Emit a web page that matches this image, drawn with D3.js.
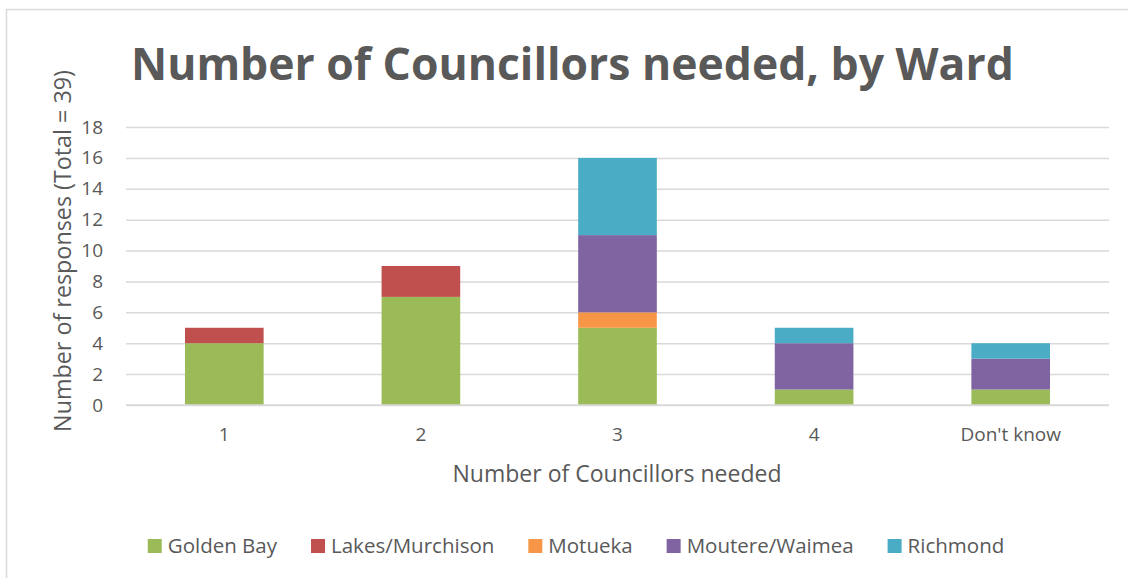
<!DOCTYPE html>
<html>
<head>
<meta charset="utf-8">
<script src="https://cdn.jsdelivr.net/npm/d3@7"></script>
<style>
  html, body { margin: 0; padding: 0; background: #fff; }
  svg { display: block; font-family: "Open Sans", "Liberation Sans", sans-serif; }
</style>
</head>
<body>
<svg id="chart" width="1128" height="578"></svg>
<script>
// Responses by number of councillors needed, split by ward
const categories = ["1", "2", "3", "4", "Don't know"];
const wards = ["Golden Bay", "Lakes/Murchison", "Motueka", "Moutere/Waimea", "Richmond"];
const goldenBay      = [4, 7, 5, 1, 1];
const lakesMurchison = [1, 2, 0, 0, 0];
const motueka        = [0, 0, 1, 0, 0];
const moutereWaimea  = [0, 0, 5, 3, 2];
const richmond       = [0, 0, 5, 1, 1];
const yTicks = [0, 2, 4, 6, 8, 10, 12, 14, 16, 18];
const wardColors = ["#9BBB59", "#C0504D", "#F79646", "#8064A2", "#4BACC6"];

const seriesValues = [goldenBay, lakesMurchison, motueka, moutereWaimea, richmond];
const rows = categories.map((c, i) => {
  const r = { category: c };
  wards.forEach((w, k) => { r[w] = seriesValues[k][i]; });
  return r;
});

const svg = d3.select("#chart");
const textColor = "#595959";
const gridColor = "#d9d9d9";

// scale a text element's font so it spans the given width
function fitWidth(sel, baseSize, width) {
  sel.style("font-size", baseSize + "px");
  const w = sel.node().getComputedTextLength();
  sel.style("font-size", (baseSize * width / w).toFixed(2) + "px");
  return sel;
}

// chart frame
svg.append("rect")
  .attr("x", 6.5).attr("y", 9.5)
  .attr("width", 1140).attr("height", 600)
  .attr("fill", "#fff").attr("stroke", gridColor).attr("stroke-width", 1.5);

const plot = { left: 126, right: 1109, top: 127, bottom: 405 };

const x = d3.scaleBand().domain(categories).range([plot.left, plot.right]).paddingInner(0.6).paddingOuter(0.3);
const y = d3.scaleLinear().domain([0, 18]).range([plot.bottom, plot.top]);
const color = d3.scaleOrdinal().domain(wards).range(wardColors);

// gridlines
svg.append("g")
  .attr("transform", `translate(${plot.left},0)`)
  .call(d3.axisLeft(y).tickValues(yTicks).tickSize(-(plot.right - plot.left)).tickFormat(""))
  .call(g => g.select(".domain").remove())
  .call(g => g.selectAll("line").attr("stroke", gridColor).attr("stroke-width", 1.5));

// y tick labels
svg.append("g")
  .attr("transform", `translate(${plot.left - 23},0)`)
  .call(d3.axisLeft(y).tickValues(yTicks).tickSize(0).tickPadding(0))
  .call(g => g.select(".domain").remove())
  .call(g => g.selectAll("text").attr("fill", textColor).style("font-size", "19px").style("font-family", "'Open Sans', sans-serif"));

// stacked bars
const stacked = d3.stack().keys(wards)(rows);
svg.append("g").selectAll("g")
  .data(stacked).join("g")
  .attr("fill", d => color(d.key))
  .selectAll("rect")
  .data(d => d).join("rect")
  .attr("x", d => x(d.data.category))
  .attr("width", x.bandwidth())
  .attr("y", d => y(d[1]))
  .attr("height", d => y(d[0]) - y(d[1]));

// x axis baseline
svg.append("line")
  .attr("x1", plot.left).attr("x2", plot.right)
  .attr("y1", y(0)).attr("y2", y(0))
  .attr("stroke", gridColor).attr("stroke-width", 1.5);

// x tick labels
svg.append("g")
  .attr("transform", `translate(0,${plot.bottom + 22})`)
  .call(d3.axisBottom(x).tickSize(0).tickPadding(0))
  .call(g => g.select(".domain").remove())
  .call(g => g.selectAll("text").attr("fill", textColor).style("font-size", "19px").style("font-family", "'Open Sans', sans-serif"));

// title
const title = svg.append("text")
  .attr("x", 131).attr("y", 80)
  .attr("fill", textColor)
  .style("font-weight", "bold")
  .text("Number of Councillors needed, by Ward");
fitWidth(title, 48, 883);

// axis titles
const yTitle = svg.append("text")
  .attr("transform", "translate(71,251) rotate(-90)")
  .attr("text-anchor", "middle")
  .attr("fill", textColor)
  .text("Number of responses (Total = 39)");
fitWidth(yTitle, 20, 362);

const xTitle = svg.append("text")
  .attr("x", 617).attr("y", 482)
  .attr("text-anchor", "middle")
  .attr("fill", textColor)
  .text("Number of Councillors needed");
fitWidth(xTitle, 20, 329);

// legend
const legend = svg.append("g");
const items = legend.selectAll("g").data(wards).join("g");
items.append("rect").attr("width", 14).attr("height", 14).attr("y", -7).attr("fill", d => color(d));
items.append("text").attr("x", 20).attr("y", 7)
  .attr("fill", textColor).style("font-size", "20.5px").text(d => d);
let cx = 0;
items.each(function () {
  const g = d3.select(this);
  g.attr("transform", `translate(${cx},0)`);
  cx += 20 + g.select("text").node().getComputedTextLength() + 34;
});
const legendWidth = cx - 34;
legend.attr("transform", `translate(${576 - legendWidth / 2},546)`);
</script>
</body>
</html>
